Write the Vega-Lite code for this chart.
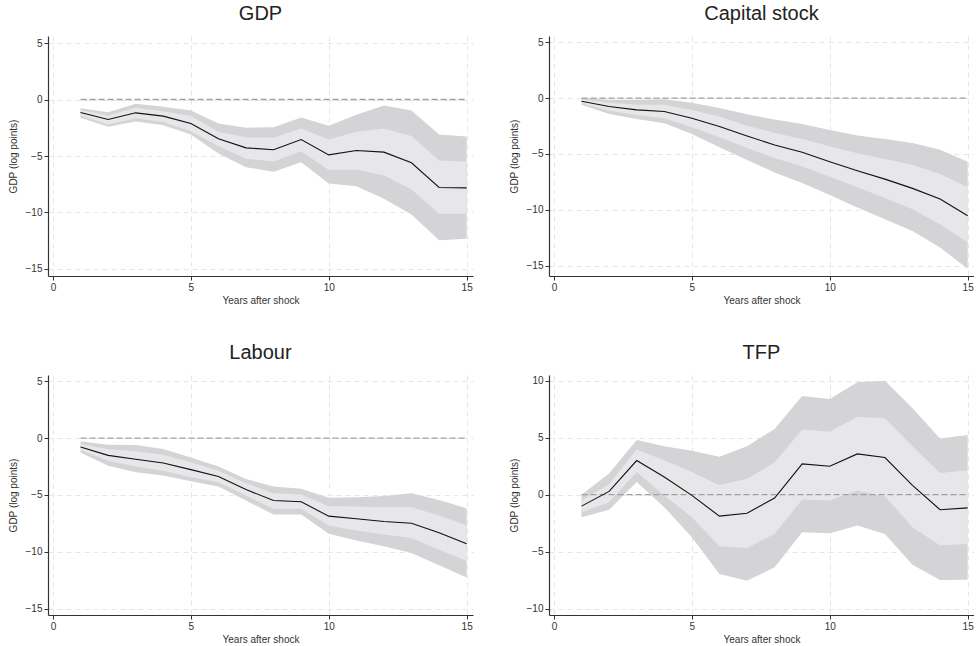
{
  "$schema": "https://vega.github.io/schema/vega-lite/v6.json",
  "padding": {"left": 8, "top": 4, "right": 0, "bottom": 0},
  "background": "white",
  "config": {
    "view": {"stroke": null},
    "font": "Liberation Sans",
    "title": {"font": "Liberation Sans", "fontSize": 20, "fontWeight": "normal", "color": "#222222", "offset": 12, "anchor": "middle"},
    "axis": {
      "labelFont": "Liberation Sans", "titleFont": "Liberation Sans",
      "labelFontSize": 10, "titleFontSize": 10, "titleFontWeight": "normal",
      "labelColor": "#333333", "titleColor": "#333333",
      "domainColor": "#333333", "tickColor": "#333333", "domainWidth": 1.2,
      "tickSize": 4, "labelPadding": 2,
      "grid": true, "gridColor": "#e6e6e6", "gridDash": [5, 4], "gridWidth": 1
    },
    "axisX": {"titlePadding": 3},
    "axisY": {"titlePadding": 7}
  },
  "datasets": {
    "irf": [
      {"panel": "GDP", "year": 1, "est": -1.15, "hi90": -0.77, "hi68": -0.94, "lo68": -1.42, "lo90": -1.62},
      {"panel": "GDP", "year": 2, "est": -1.77, "hi90": -1.12, "hi68": -1.42, "lo68": -2.21, "lo90": -2.42},
      {"panel": "GDP", "year": 3, "est": -1.18, "hi90": -0.38, "hi68": -0.74, "lo68": -1.65, "lo90": -1.95},
      {"panel": "GDP", "year": 4, "est": -1.47, "hi90": -0.65, "hi68": -1.03, "lo68": -2.0, "lo90": -2.27},
      {"panel": "GDP", "year": 5, "est": -2.12, "hi90": -0.97, "hi68": -1.47, "lo68": -2.8, "lo90": -3.1},
      {"panel": "GDP", "year": 6, "est": -3.48, "hi90": -2.12, "hi68": -2.86, "lo68": -4.13, "lo90": -4.78},
      {"panel": "GDP", "year": 7, "est": -4.28, "hi90": -2.5, "hi68": -3.33, "lo68": -5.25, "lo90": -5.99},
      {"panel": "GDP", "year": 8, "est": -4.45, "hi90": -2.45, "hi68": -3.39, "lo68": -5.49, "lo90": -6.4},
      {"panel": "GDP", "year": 9, "est": -3.54, "hi90": -1.6, "hi68": -2.57, "lo68": -4.57, "lo90": -5.55},
      {"panel": "GDP", "year": 10, "est": -4.9, "hi90": -2.33, "hi68": -3.54, "lo68": -6.25, "lo90": -7.43},
      {"panel": "GDP", "year": 11, "est": -4.51, "hi90": -1.36, "hi68": -2.86, "lo68": -6.19, "lo90": -7.67},
      {"panel": "GDP", "year": 12, "est": -4.66, "hi90": -0.53, "hi68": -2.57, "lo68": -6.73, "lo90": -8.79},
      {"panel": "GDP", "year": 13, "est": -5.6, "hi90": -0.97, "hi68": -3.24, "lo68": -7.96, "lo90": -10.18},
      {"panel": "GDP", "year": 14, "est": -7.79, "hi90": -3.1, "hi68": -5.4, "lo68": -10.12, "lo90": -12.45},
      {"panel": "GDP", "year": 15, "est": -7.82, "hi90": -3.27, "hi68": -5.49, "lo68": -10.12, "lo90": -12.33},

      {"panel": "Capital stock", "year": 1, "est": -0.27, "hi90": 0.03, "hi68": -0.12, "lo68": -0.45, "lo90": -0.6},
      {"panel": "Capital stock", "year": 2, "est": -0.75, "hi90": -0.15, "hi68": -0.42, "lo68": -1.11, "lo90": -1.41},
      {"panel": "Capital stock", "year": 3, "est": -1.05, "hi90": -0.15, "hi68": -0.6, "lo68": -1.5, "lo90": -1.86},
      {"panel": "Capital stock", "year": 4, "est": -1.2, "hi90": -0.09, "hi68": -0.6, "lo68": -1.8, "lo90": -2.25},
      {"panel": "Capital stock", "year": 5, "est": -1.8, "hi90": -0.42, "hi68": -1.05, "lo68": -2.6, "lo90": -3.2},
      {"panel": "Capital stock", "year": 6, "est": -2.54, "hi90": -0.87, "hi68": -1.65, "lo68": -3.5, "lo90": -4.4},
      {"panel": "Capital stock", "year": 7, "est": -3.38, "hi90": -1.44, "hi68": -2.46, "lo68": -4.46, "lo90": -5.54},
      {"panel": "Capital stock", "year": 8, "est": -4.19, "hi90": -1.92, "hi68": -3.11, "lo68": -5.36, "lo90": -6.65},
      {"panel": "Capital stock", "year": 9, "est": -4.85, "hi90": -2.31, "hi68": -3.65, "lo68": -6.11, "lo90": -7.6},
      {"panel": "Capital stock", "year": 10, "est": -5.69, "hi90": -2.84, "hi68": -4.31, "lo68": -7.04, "lo90": -8.68},
      {"panel": "Capital stock", "year": 11, "est": -6.5, "hi90": -3.35, "hi68": -4.94, "lo68": -7.99, "lo90": -9.79},
      {"panel": "Capital stock", "year": 12, "est": -7.25, "hi90": -3.65, "hi68": -5.45, "lo68": -8.95, "lo90": -10.84},
      {"panel": "Capital stock", "year": 13, "est": -8.08, "hi90": -4.01, "hi68": -5.96, "lo68": -9.94, "lo90": -11.89},
      {"panel": "Capital stock", "year": 14, "est": -9.04, "hi90": -4.61, "hi68": -6.8, "lo68": -11.29, "lo90": -13.38},
      {"panel": "Capital stock", "year": 15, "est": -10.54, "hi90": -5.69, "hi68": -7.99, "lo68": -12.93, "lo90": -15.27},

      {"panel": "Labour", "year": 1, "est": -0.79, "hi90": -0.29, "hi68": -0.53, "lo68": -1.05, "lo90": -1.26},
      {"panel": "Labour", "year": 2, "est": -1.52, "hi90": -0.58, "hi68": -0.99, "lo68": -1.99, "lo90": -2.43},
      {"panel": "Labour", "year": 3, "est": -1.87, "hi90": -0.61, "hi68": -1.17, "lo68": -2.51, "lo90": -3.01},
      {"panel": "Labour", "year": 4, "est": -2.19, "hi90": -0.96, "hi68": -1.49, "lo68": -2.87, "lo90": -3.3},
      {"panel": "Labour", "year": 5, "est": -2.78, "hi90": -1.7, "hi68": -2.13, "lo68": -3.45, "lo90": -3.8},
      {"panel": "Labour", "year": 6, "est": -3.39, "hi90": -2.51, "hi68": -2.87, "lo68": -3.89, "lo90": -4.27},
      {"panel": "Labour", "year": 7, "est": -4.53, "hi90": -3.6, "hi68": -3.98, "lo68": -5.06, "lo90": -5.5},
      {"panel": "Labour", "year": 8, "est": -5.5, "hi90": -4.27, "hi68": -4.85, "lo68": -6.23, "lo90": -6.73},
      {"panel": "Labour", "year": 9, "est": -5.61, "hi90": -4.47, "hi68": -4.97, "lo68": -6.23, "lo90": -6.73},
      {"panel": "Labour", "year": 10, "est": -6.87, "hi90": -5.26, "hi68": -5.99, "lo68": -7.69, "lo90": -8.42},
      {"panel": "Labour", "year": 11, "est": -7.1, "hi90": -5.2, "hi68": -6.02, "lo68": -8.13, "lo90": -9.01},
      {"panel": "Labour", "year": 12, "est": -7.34, "hi90": -5.09, "hi68": -6.08, "lo68": -8.48, "lo90": -9.53},
      {"panel": "Labour", "year": 13, "est": -7.49, "hi90": -4.85, "hi68": -6.08, "lo68": -8.8, "lo90": -10.12},
      {"panel": "Labour", "year": 14, "est": -8.33, "hi90": -5.44, "hi68": -6.81, "lo68": -9.82, "lo90": -11.2},
      {"panel": "Labour", "year": 15, "est": -9.3, "hi90": -6.17, "hi68": -7.69, "lo68": -10.82, "lo90": -12.28},

      {"panel": "TFP", "year": 1, "est": -1.0, "hi90": 0.0, "hi68": -0.5, "lo68": -1.53, "lo90": -1.97},
      {"panel": "TFP", "year": 2, "est": 0.29, "hi90": 1.85, "hi68": 0.91, "lo68": -0.65, "lo90": -1.32},
      {"panel": "TFP", "year": 3, "est": 3.0, "hi90": 4.79, "hi68": 3.96, "lo68": 2.0, "lo90": 1.12},
      {"panel": "TFP", "year": 4, "est": 1.56, "hi90": 4.26, "hi68": 3.02, "lo68": -0.06, "lo90": -1.09},
      {"panel": "TFP", "year": 5, "est": -0.06, "hi90": 3.85, "hi68": 2.0, "lo68": -1.97, "lo90": -3.73},
      {"panel": "TFP", "year": 6, "est": -1.88, "hi90": 3.32, "hi68": 0.82, "lo68": -4.52, "lo90": -6.96},
      {"panel": "TFP", "year": 7, "est": -1.62, "hi90": 4.26, "hi68": 1.41, "lo68": -4.67, "lo90": -7.55},
      {"panel": "TFP", "year": 8, "est": -0.29, "hi90": 5.76, "hi68": 2.82, "lo68": -3.44, "lo90": -6.37},
      {"panel": "TFP", "year": 9, "est": 2.7, "hi90": 8.66, "hi68": 5.73, "lo68": -0.41, "lo90": -3.29},
      {"panel": "TFP", "year": 10, "est": 2.5, "hi90": 8.4, "hi68": 5.52, "lo68": -0.5, "lo90": -3.38},
      {"panel": "TFP", "year": 11, "est": 3.58, "hi90": 9.87, "hi68": 6.84, "lo68": 0.38, "lo90": -2.7},
      {"panel": "TFP", "year": 12, "est": 3.26, "hi90": 9.99, "hi68": 6.7, "lo68": -0.15, "lo90": -3.44},
      {"panel": "TFP", "year": 13, "est": 0.82, "hi90": 7.58, "hi68": 4.26, "lo68": -2.85, "lo90": -6.14},
      {"panel": "TFP", "year": 14, "est": -1.32, "hi90": 4.93, "hi68": 1.91, "lo68": -4.46, "lo90": -7.49},
      {"panel": "TFP", "year": 15, "est": -1.15, "hi90": 5.23, "hi68": 2.14, "lo68": -4.32, "lo90": -7.46}
    ]
  },
  "vconcat": [
    {
      "hconcat": [
        {
          "title": "GDP", "width": 425, "height": 240,
          "data": {"name": "irf"},
          "transform": [{"filter": "datum.panel === 'GDP'"}],
          "layer": [
            {"mark": {"type": "area", "color": "#d4d4d6", "opacity": 1},
             "encoding": {
               "x": {"field": "year", "type": "quantitative", "scale": {"domain": [-0.18, 15.23], "nice": false, "zero": false}, "axis": {"values": [0, 5, 10, 15], "title": "Years after shock"}},
               "y": {"field": "lo90", "type": "quantitative", "scale": {"domain": [-15.62, 5.62], "nice": false, "zero": false}, "axis": {"values": [-15, -10, -5, 0, 5], "title": "GDP (log points)"}},
               "y2": {"field": "hi90"}}},
            {"mark": {"type": "area", "color": "#e7e7e9", "opacity": 1},
             "encoding": {"x": {"field": "year", "type": "quantitative"}, "y": {"field": "lo68", "type": "quantitative"}, "y2": {"field": "hi68"}}},
            {"data": {"values": [{}]},
             "mark": {"type": "rule", "color": "#a0a0a0", "strokeDash": [6, 3], "strokeWidth": 1.3},
             "encoding": {"x": {"datum": 1}, "x2": {"datum": 15}, "y": {"datum": 0}}},
            {"mark": {"type": "line", "color": "#111111", "strokeWidth": 1.1},
             "encoding": {"x": {"field": "year", "type": "quantitative"}, "y": {"field": "est", "type": "quantitative"}}}
          ]
        },
        {
          "title": "Capital stock", "width": 425, "height": 240,
          "data": {"name": "irf"},
          "transform": [{"filter": "datum.panel === 'Capital stock'"}],
          "layer": [
            {"mark": {"type": "area", "color": "#d4d4d6", "opacity": 1},
             "encoding": {
               "x": {"field": "year", "type": "quantitative", "scale": {"domain": [-0.18, 15.23], "nice": false, "zero": false}, "axis": {"values": [0, 5, 10, 15], "title": "Years after shock"}},
               "y": {"field": "lo90", "type": "quantitative", "scale": {"domain": [-15.93, 5.57], "nice": false, "zero": false}, "axis": {"values": [-15, -10, -5, 0, 5], "title": "GDP (log points)"}},
               "y2": {"field": "hi90"}}},
            {"mark": {"type": "area", "color": "#e7e7e9", "opacity": 1},
             "encoding": {"x": {"field": "year", "type": "quantitative"}, "y": {"field": "lo68", "type": "quantitative"}, "y2": {"field": "hi68"}}},
            {"data": {"values": [{}]},
             "mark": {"type": "rule", "color": "#a0a0a0", "strokeDash": [6, 3], "strokeWidth": 1.3},
             "encoding": {"x": {"datum": 1}, "x2": {"datum": 15}, "y": {"datum": 0}}},
            {"mark": {"type": "line", "color": "#111111", "strokeWidth": 1.1},
             "encoding": {"x": {"field": "year", "type": "quantitative"}, "y": {"field": "est", "type": "quantitative"}}}
          ]
        }
      ],
      "spacing": 36
    },
    {
      "hconcat": [
        {
          "title": "Labour", "width": 425, "height": 240,
          "data": {"name": "irf"},
          "transform": [{"filter": "datum.panel === 'Labour'"}],
          "layer": [
            {"mark": {"type": "area", "color": "#d4d4d6", "opacity": 1},
             "encoding": {
               "x": {"field": "year", "type": "quantitative", "scale": {"domain": [-0.18, 15.23], "nice": false, "zero": false}, "axis": {"values": [0, 5, 10, 15], "title": "Years after shock"}},
               "y": {"field": "lo90", "type": "quantitative", "scale": {"domain": [-15.57, 5.55], "nice": false, "zero": false}, "axis": {"values": [-15, -10, -5, 0, 5], "title": "GDP (log points)"}},
               "y2": {"field": "hi90"}}},
            {"mark": {"type": "area", "color": "#e7e7e9", "opacity": 1},
             "encoding": {"x": {"field": "year", "type": "quantitative"}, "y": {"field": "lo68", "type": "quantitative"}, "y2": {"field": "hi68"}}},
            {"data": {"values": [{}]},
             "mark": {"type": "rule", "color": "#a0a0a0", "strokeDash": [6, 3], "strokeWidth": 1.3},
             "encoding": {"x": {"datum": 1}, "x2": {"datum": 15}, "y": {"datum": 0}}},
            {"mark": {"type": "line", "color": "#111111", "strokeWidth": 1.1},
             "encoding": {"x": {"field": "year", "type": "quantitative"}, "y": {"field": "est", "type": "quantitative"}}}
          ]
        },
        {
          "title": "TFP", "width": 425, "height": 240,
          "data": {"name": "irf"},
          "transform": [{"filter": "datum.panel === 'TFP'"}],
          "layer": [
            {"mark": {"type": "area", "color": "#d4d4d6", "opacity": 1},
             "encoding": {
               "x": {"field": "year", "type": "quantitative", "scale": {"domain": [-0.18, 15.23], "nice": false, "zero": false}, "axis": {"values": [0, 5, 10, 15], "title": "Years after shock"}},
               "y": {"field": "lo90", "type": "quantitative", "scale": {"domain": [-10.55, 10.5], "nice": false, "zero": false}, "axis": {"values": [-10, -5, 0, 5, 10], "title": "GDP (log points)"}},
               "y2": {"field": "hi90"}}},
            {"mark": {"type": "area", "color": "#e7e7e9", "opacity": 1},
             "encoding": {"x": {"field": "year", "type": "quantitative"}, "y": {"field": "lo68", "type": "quantitative"}, "y2": {"field": "hi68"}}},
            {"data": {"values": [{}]},
             "mark": {"type": "rule", "color": "#a0a0a0", "strokeDash": [6, 3], "strokeWidth": 1.3},
             "encoding": {"x": {"datum": 1}, "x2": {"datum": 15}, "y": {"datum": 0}}},
            {"mark": {"type": "line", "color": "#111111", "strokeWidth": 1.1},
             "encoding": {"x": {"field": "year", "type": "quantitative"}, "y": {"field": "est", "type": "quantitative"}}}
          ]
        }
      ],
      "spacing": 36
    }
  ],
  "spacing": 38
}
